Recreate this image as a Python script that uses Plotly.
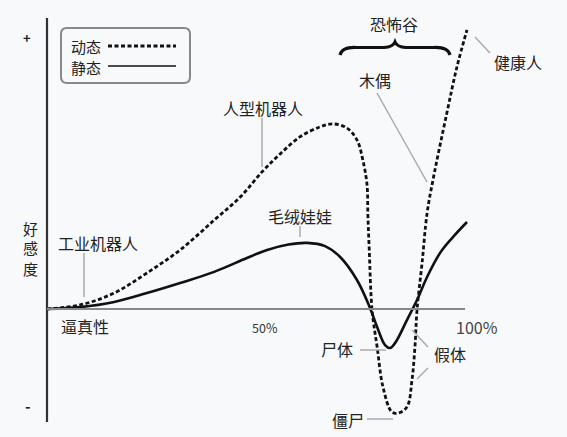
import plotly.graph_objects as go

# 恐怖谷曲线 —— 逼真性(%) vs 好感度
W, H = 567, 437

# 静态 (实线)
realism_static = [0, 7.9, 16.0, 23.8, 31.7, 39.8, 47.6, 52.4, 57.5, 61.9, 66.2, 69.8,
                  73.8, 76.9, 78.6, 80.5, 81.7, 82.9, 85.7, 88.1, 90.5, 93.6, 96.7, 100]
affinity_static = [0, 0.7, 2.6, 5.9, 9.6, 13.7, 18.8, 21.8, 23.8, 24.4, 23.2, 19.2,
                   10.7, 0.4, -6.6, -13.3, -14.4, -12.5, -4.1, 3.3, 11.8, 20.7, 26.6, 32.1]

# 动态 (虚线)
realism_dynamic = [0, 7.9, 16.0, 23.8, 31.7, 39.8, 46.0, 51.2, 55.5, 60.2, 65.0, 68.1,
                   71.4, 73.8, 75.2, 76.2, 76.4, 76.7, 77.4, 78.6, 80.0, 82.1, 83.6,
                   85.7, 86.9, 87.6, 88.1, 89.3, 90.5, 91.9, 95.2, 97.6, 100]
affinity_dynamic = [0, 1.5, 5.9, 13.3, 21.8, 32.8, 41.3, 50.6, 57.2, 63.5, 67.2, 68.3,
                    66.8, 62.4, 55.0, 45.8, 34.7, 22.9, -0.4, -14.0, -28.8, -38.0, -38.4,
                    -36.2, -26.2, -14.0, -0.4, 17.0, 35.4, 47.6, 72.3, 89.3, 103.0]

legend_names = ["动态", "静态"]
point_labels = ["工业机器人", "人型机器人", "毛绒娃娃", "木偶", "健康人", "尸体", "假体", "僵尸"]
tick_labels = ["50%", "100%"]

FONT = "Noto Sans CJK SC, Noto Sans, DejaVu Sans"
BG = "#f8f9fa"
GRAY = "#aaaaaa"


def px(x):
    return x / W


def py(y):
    return 1 - y / H


fig = go.Figure()

fig.add_trace(go.Scatter(
    x=realism_static, y=affinity_static, mode="lines",
    line=dict(color="#111111", width=2.6, shape="spline", smoothing=1.1),
    showlegend=False, hoverinfo="skip"
))
fig.add_trace(go.Scatter(
    x=realism_dynamic, y=affinity_dynamic, mode="lines",
    line=dict(color="#111111", width=2.8, dash="4px,2.5px", shape="spline", smoothing=1.0),
    showlegend=False, hoverinfo="skip"
))

shapes = []


def seg(x0, y0, x1, y1, color=GRAY, width=1.5, dash=None):
    shapes.append(dict(type="line", xref="paper", yref="paper",
                       x0=px(x0), y0=py(y0), x1=px(x1), y1=py(y1),
                       line=dict(color=color, width=width, dash=dash)))


# 坐标轴
seg(47, 18, 47, 422, color="#333333", width=2.2)
seg(47, 309, 465, 309, color="#888888", width=2)

# 引线
seg(84, 253, 84, 297)        # 工业机器人
seg(262, 118, 262, 167)      # 人型机器人
seg(300, 226, 300, 237)      # 毛绒娃娃
seg(377, 93, 427, 182)       # 木偶
seg(475, 37, 490, 53)        # 健康人
seg(360, 350, 386, 350)      # 尸体
seg(412, 330, 428, 347)      # 假体
seg(417, 379, 428, 368)
seg(367, 419, 393, 419)      # 僵尸

# 图例框
lx0, ly0, lx1, ly1, r = 61, 28, 190, 83, 6
path = (f"M {px(lx0 + r)},{py(ly0)} L {px(lx1 - r)},{py(ly0)} "
        f"Q {px(lx1)},{py(ly0)} {px(lx1)},{py(ly0 + r)} L {px(lx1)},{py(ly1 - r)} "
        f"Q {px(lx1)},{py(ly1)} {px(lx1 - r)},{py(ly1)} L {px(lx0 + r)},{py(ly1)} "
        f"Q {px(lx0)},{py(ly1)} {px(lx0)},{py(ly1 - r)} L {px(lx0)},{py(ly0 + r)} "
        f"Q {px(lx0)},{py(ly0)} {px(lx0 + r)},{py(ly0)} Z")
shapes.append(dict(type="path", xref="paper", yref="paper", path=path,
                   line=dict(color="#888888", width=2), fillcolor=BG))
seg(108, 46, 176, 46, color="#111111", width=2.8, dash="4px,2.5px")
seg(108, 66, 176, 66, color="#111111", width=1.5)

# 花括号
brace = [(340, 55), (342, 47), (356, 47.5), (384, 47.5), (393, 47), (395, 42),
         (397, 47), (406, 47.5), (434, 47.5), (448, 47), (450, 55)]
bp = (f"M {px(brace[0][0])},{py(brace[0][1])} "
      f"Q {px(brace[1][0])},{py(brace[1][1])} {px(brace[2][0])},{py(brace[2][1])} "
      f"L {px(brace[3][0])},{py(brace[3][1])} "
      f"Q {px(brace[4][0])},{py(brace[4][1])} {px(brace[5][0])},{py(brace[5][1])} "
      f"Q {px(brace[6][0])},{py(brace[6][1])} {px(brace[7][0])},{py(brace[7][1])} "
      f"L {px(brace[8][0])},{py(brace[8][1])} "
      f"Q {px(brace[9][0])},{py(brace[9][1])} {px(brace[10][0])},{py(brace[10][1])}")
shapes.append(dict(type="path", xref="paper", yref="paper", path=bp,
                   line=dict(color="#111111", width=3.2)))

annotations = []


def label(text, x, y, size=16, color="#222222", xanchor="center", bold=False):
    if bold:
        text = f"<b>{text}</b>"
    annotations.append(dict(text=text, x=px(x), y=py(y), xref="paper", yref="paper",
                            showarrow=False, xanchor=xanchor, yanchor="middle",
                            font=dict(family=FONT, size=size, color=color)))


label(legend_names[0], 69, 46, size=15, xanchor="left")
label(legend_names[1], 69, 67, size=15, xanchor="left")
label(point_labels[0], 98, 243)
label(point_labels[1], 263, 108)
label(point_labels[2], 300, 216)
label(point_labels[3], 375, 80)
label(point_labels[4], 518, 62)
label(point_labels[5], 337, 349)
label(point_labels[6], 450, 354)
label(point_labels[7], 348, 420)
label("恐怖谷", 394, 24)
# 纵轴标题逐字竖排
for i, ch in enumerate("好感度"):
    label(ch, 30, 228 + 20 * i, size=15)
label("逼真性", 85, 326)
label(tick_labels[0], 265, 327, size=12.5, color="#333333")
label(tick_labels[1], 477, 327, size=16, color="#444444")
label("+", 27, 38, size=13, bold=True)
label("-", 28, 405, size=15, bold=True)

fig.update_layout(
    width=W, height=H,
    margin=dict(l=0, r=0, t=0, b=0),
    paper_bgcolor=BG, plot_bgcolor=BG,
    xaxis=dict(range=[-47 / 4.2, (W - 47) / 4.2], visible=False, fixedrange=True),
    yaxis=dict(range=[-(H - 309) / 2.71, 309 / 2.71], visible=False, fixedrange=True),
    shapes=shapes,
    annotations=annotations,
    showlegend=False
)

fig.write_html("out.html", config={"displayModeBar": False},
               post_script="document.body.style.margin='0';document.body.style.background='#f8f9fa';")
